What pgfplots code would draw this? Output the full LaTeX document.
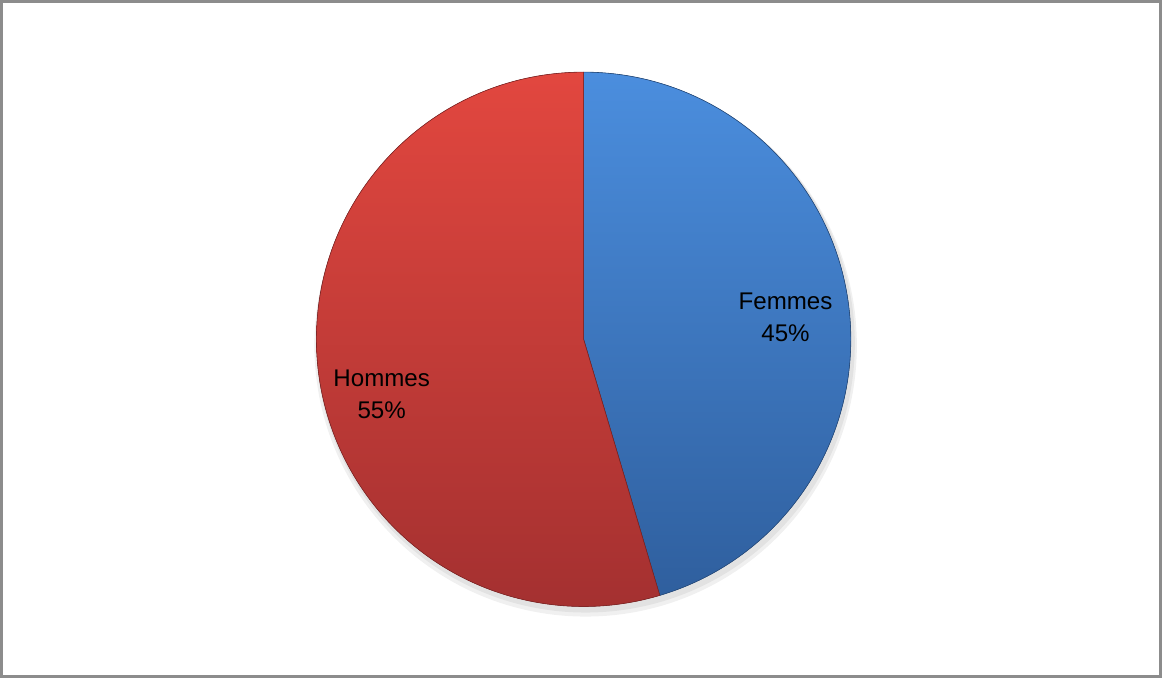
\documentclass[border=0pt]{standalone}
\usepackage{pgfplots}
\pgfplotsset{compat=1.18}
\usepackage{pgfplotstable}
\usepackage{fontspec}
\setmainfont{Liberation Sans}
\definecolor{redtop}{HTML}{E2473F}
\definecolor{redbot}{HTML}{A33030}
\definecolor{bluetop}{HTML}{4B8EDE}
\definecolor{bluebot}{HTML}{2F5F9E}
\definecolor{frame}{HTML}{8C8C8C}
\pgfplotstableread{
label   value
Femmes  45.4
Hommes  54.6
}\piedata
\begin{document}
\begin{tikzpicture}
\pgfplotstablegetelem{0}{value}\of\piedata \let\vF=\pgfplotsretval
\pgfplotstablegetelem{1}{value}\of\piedata \let\vH=\pgfplotsretval
\pgfmathsetmacro{\aF}{90-3.6*\vF}
\pgfmathsetmacro{\aH}{90+3.6*\vH}
\begin{axis}[
  x=1pt, y=1pt,
  xmin=0, xmax=1162, ymin=0, ymax=678,
  hide axis,
  clip=false,
]
% frame
\draw[frame, line width=2.6pt] (axis cs:4.3,3.2) rectangle (axis cs:1158.5,675.5);
% soft shadow
\fill[black, opacity=0.06] (axis cs:586,333) circle [radius=270];
\fill[black, opacity=0.06] (axis cs:586,335) circle [radius=268];
% Femmes slice
\fill[top color=bluetop, bottom color=bluebot, draw=bluebot!80!black, line width=0.6pt]
  (axis cs:584,339) -- (axis cs:584,605) arc[start angle=90, end angle=\aF, radius=266pt] -- cycle;
% Hommes slice
\fill[top color=redtop, bottom color=redbot, draw=redbot!80!black, line width=0.6pt]
  (axis cs:584,339) -- (axis cs:584,605) arc[start angle=90, end angle=\aH, radius=266pt] -- cycle;
\node[font=\fontsize{24}{32}\selectfont, align=center] at (axis cs:785,361) {Femmes\\45\%};
\node[font=\fontsize{24}{32}\selectfont, align=center] at (axis cs:383,284) {Hommes\\55\%};
\end{axis}
\end{tikzpicture}
\end{document}
